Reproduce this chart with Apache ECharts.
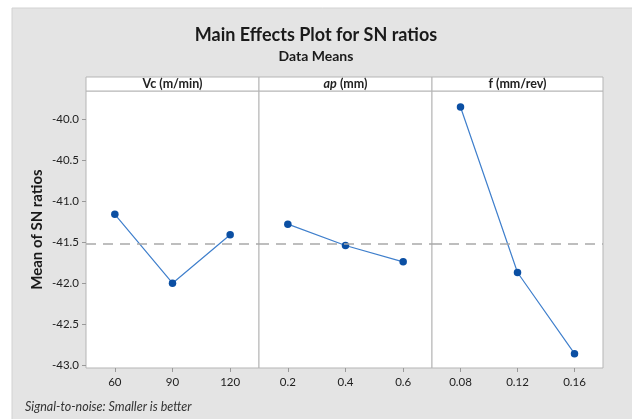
<!DOCTYPE html>
<html>
<head>
<meta charset="utf-8">
<script src="https://cdn.jsdelivr.net/npm/echarts@6/dist/echarts.min.js"></script>
<style>
  html, body { margin: 0; padding: 0; background: #fff; }
  #chart { width: 632px; height: 419px; }
</style>
</head>
<body>
<div id="chart"></div>
<script>
// factor names (strip headers)
const factors = ['Vc (m/min)', 'ap (mm)', 'f (mm/rev)']

// levels and mean SN ratios per factor
const vcLevels = ['60', '90', '120']
const vcMeans = [-41.16, -42.00, -41.41]
const apLevels = ['0.2', '0.4', '0.6']
const apMeans = [-41.28, -41.54, -41.74]
const fLevels = ['0.08', '0.12', '0.16']
const fMeans = [-39.85, -41.87, -42.86]

const yTicks = [-43.0, -42.5, -42.0, -41.5, -41.0, -40.5, -40.0]

const levels = [vcLevels, apLevels, fLevels]
const means = [vcMeans, apMeans, fMeans]

// grand mean = mean of any factor's level means
const grandMean = vcMeans.reduce((a, b) => a + b, 0) / vcMeans.length

const FONT = 'Lato'
const panels = [
  { left: 86, width: 173 },
  { left: 259, width: 173 },
  { left: 432, width: 171 }
]
const TOP = 91
const HEIGHT = 277

const chart = echarts.init(document.getElementById('chart'))

const grids = panels.map(p => ({
  left: p.left, top: TOP, width: p.width, height: HEIGHT,
  show: true, backgroundColor: '#fff', borderColor: '#b5b5b5', borderWidth: 1
}))

const xAxes = levels.map((lv, i) => ({
  type: 'category', gridIndex: i, data: lv, boundaryGap: true,
  axisLine: { show: false },
  axisTick: { show: true, alignWithLabel: true, length: 4, lineStyle: { color: '#999' } },
  axisLabel: { color: '#222', fontFamily: FONT, fontSize: 11.5, margin: 8 }
}))

const yAxes = levels.map((lv, i) => ({
  type: 'value', gridIndex: i, min: -43.035, max: -39.655,
  splitLine: { show: false },
  axisLine: { show: false },
  axisTick: i === 0 ? { show: true, length: 4, lineStyle: { color: '#999' }, customValues: yTicks } : { show: false },
  axisLabel: i === 0 ? {
    show: true, color: '#222', fontFamily: FONT, fontSize: 11.5, margin: 7,
    customValues: yTicks, formatter: v => v.toFixed(1)
  } : { show: false },
  name: i === 0 ? 'Mean of SN ratios' : '',
  nameLocation: 'middle', nameGap: 41,
  nameTextStyle: { color: '#1a1a1a', fontFamily: FONT, fontSize: 15, fontWeight: 'bold' }
}))

const series = means.map((m, i) => ({
  type: 'line', xAxisIndex: i, yAxisIndex: i, data: m,
  symbol: 'circle', symbolSize: 7.5,
  lineStyle: { color: '#3f7fcc', width: 1.2 },
  itemStyle: { color: '#0b4fa3' },
  markLine: {
    silent: true, symbol: 'none', label: { show: false },
    lineStyle: { color: '#a9a9a9', type: [10, 7], width: 1.5 },
    data: [{ yAxis: grandMean }]
  },
  z: 3
}))

const graphic = [
  { type: 'rect', z: -10, shape: { x: 12, y: 8, width: 640, height: 430 },
    style: { fill: '#e4e4e4', stroke: '#d2d2d2', lineWidth: 1 } },
  { type: 'text', left: 'center', top: 26,
    style: { text: 'Main Effects Plot for SN ratios', fill: '#1a1a1a', font: 'bold 18px ' + FONT } },
  { type: 'text', left: 'center', top: 49,
    style: { text: 'Data Means', fill: '#1a1a1a', font: 'bold 14px ' + FONT } },
  { type: 'text', left: 25, top: 400,
    style: { text: 'Signal-to-noise: Smaller is better', fill: '#333', font: 'italic 12.5px ' + FONT } }
]

panels.forEach((p, i) => {
  graphic.push({ type: 'rect', shape: { x: p.left, y: 77, width: p.width, height: 14 },
    style: { fill: '#fff', stroke: '#b5b5b5', lineWidth: 1 } })
  const name = factors[i]
  const sp = name.indexOf(' ')
  graphic.push({ type: 'text', x: p.left + p.width / 2, y: 84,
    style: {
      text: i === 1 ? '{it|' + name.slice(0, sp) + '}{n|' + name.slice(sp) + '}' : '{n|' + name + '}',
      align: 'center', verticalAlign: 'middle',
      rich: {
        it: { font: 'italic bold 12.5px ' + FONT, fill: '#222' },
        n: { font: 'bold 12.5px ' + FONT, fill: '#222' }
      }
    } })
})

chart.setOption({
  animation: false,
  grid: grids,
  xAxis: xAxes,
  yAxis: yAxes,
  series: series,
  graphic: graphic
})
</script>
</body>
</html>
